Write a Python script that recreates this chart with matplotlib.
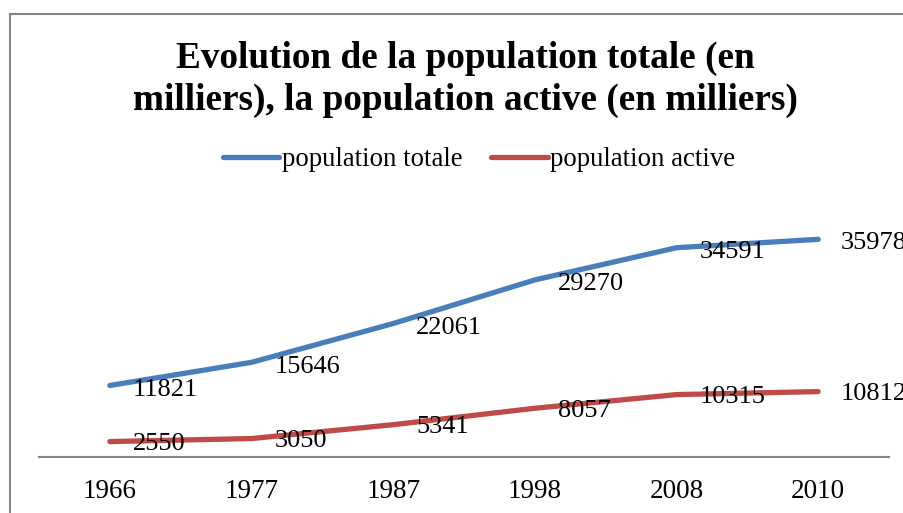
import matplotlib
matplotlib.use("Agg")
import matplotlib.pyplot as plt
from matplotlib.lines import Line2D

# data
years = ["1966", "1977", "1987", "1998", "2008", "2010"]
pop_totale = [11821, 15646, 22061, 29270, 34591, 35978]
pop_active = [2550, 3050, 5341, 8057, 10315, 10812]

BLUE = "#4A7EBB"
RED = "#BE4B48"
GRAY = "#868686"

plt.rcParams["font.family"] = ["Liberation Serif", "DejaVu Serif"]

fig = plt.figure(figsize=(9.04, 5.13), dpi=100)
W, H = 904, 513

# chart border (only left and top visible in the crop)
fig.add_artist(Line2D([10 / W, 10 / W], [0, 1 - 14 / H], color=GRAY, lw=1.5,
                      transform=fig.transFigure))
fig.add_artist(Line2D([10 / W, 1], [1 - 14 / H, 1 - 14 / H], color=GRAY, lw=1.5,
                      transform=fig.transFigure))

ax = fig.add_axes([39 / W, 1 - 457 / H, 850 / W, 242 / H])
x = list(range(len(years)))

ax.plot(x, pop_totale, color=BLUE, lw=3.8, solid_capstyle="round",
        solid_joinstyle="round", label="population totale")
ax.plot(x, pop_active, color=RED, lw=3.8, solid_capstyle="round",
        solid_joinstyle="round", label="population active")

for xi, v in zip(x, pop_totale):
    ax.annotate(str(v), (xi, v), xytext=(16.5, -3), textcoords="offset points",
                ha="left", va="center", fontsize=19)
for xi, v in zip(x, pop_active):
    ax.annotate(str(v), (xi, v), xytext=(16.5, -2), textcoords="offset points",
                ha="left", va="center", fontsize=19)

ax.set_xlim(-0.5, len(years) - 0.5)
ax.set_ylim(0, 40000)
ax.set_xticks(x)
ax.set_xticklabels(years, fontsize=19.5)
ax.tick_params(axis="x", length=0, pad=16)
ax.set_yticks([])
for s in ["left", "right", "top"]:
    ax.spines[s].set_visible(False)
ax.spines["bottom"].set_color(GRAY)
ax.spines["bottom"].set_linewidth(1.5)
ax.patch.set_alpha(0)

fig.text(465 / W, 1 - 58 / H, "Evolution de la population totale (en",
         ha="center", va="center", fontsize=26.8, fontweight="bold")
fig.text(465 / W, 1 - 100 / H, "milliers), la population active (en milliers)",
         ha="center", va="center", fontsize=26.8, fontweight="bold")

fig.legend(loc="center", bbox_to_anchor=(479 / W, 1 - 160 / H), ncol=2,
           frameon=False, fontsize=19.3, handlelength=2.1, handletextpad=0.1,
           columnspacing=1.1)

fig.savefig("out.png", dpi=100)
